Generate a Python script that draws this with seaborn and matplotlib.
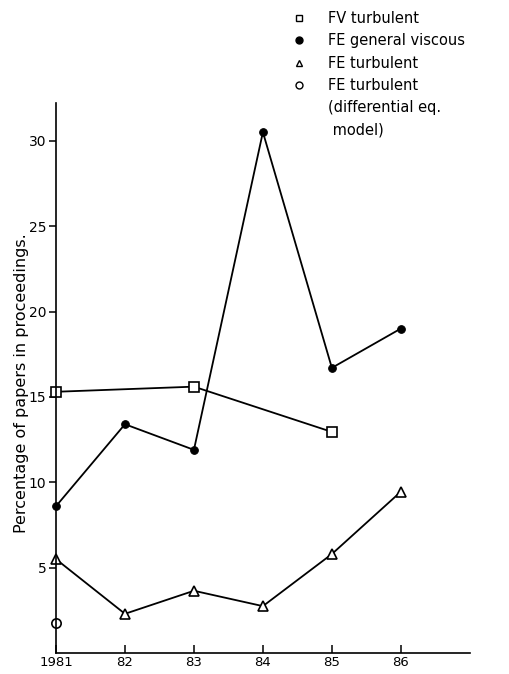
import numpy as np
import pandas as pd
import matplotlib
matplotlib.use("Agg")
import matplotlib.pyplot as plt
import seaborn as sns
from matplotlib.lines import Line2D

# values
fv_years = [1981, 1983, 1985]
fv_turb = [15.3, 15.6, 12.95]

fe_years = [1981, 1982, 1983, 1984, 1985, 1986]
fe_visc = [8.6, 13.4, 11.9, 30.5, 16.7, 19.0]
fe_turb = [5.5, 2.3, 3.65, 2.75, 5.8, 9.45]

de_years = [1981]
de_turb = [1.75]

xticks = [1981, 1982, 1983, 1984, 1985, 1986]
xticklabels = ["1981", "82", "83", "84", "85", "86"]
yticks = [5, 10, 15, 20, 25, 30]

sns.set_style("ticks")
plt.rcParams['font.family'] = ['DejaVu Sans']
plt.rcParams['text.color'] = 'k'
plt.rcParams['axes.labelcolor'] = 'k'
plt.rcParams['xtick.color'] = 'k'
plt.rcParams['ytick.color'] = 'k'
plt.rcParams['axes.edgecolor'] = 'k'

fig = plt.figure(figsize=(5.09, 6.74), dpi=100)
ax = fig.add_axes([0.110, 0.031, 0.813, 0.816])

lw = 1.3
sns.lineplot(x=fv_years, y=fv_turb, ax=ax, color='k', lw=lw, marker='s',
             markersize=7, markerfacecolor='white', markeredgecolor='k',
             markeredgewidth=1.2)
sns.lineplot(x=fe_years, y=fe_visc, ax=ax, color='k', lw=lw, marker='o',
             markersize=5.5, markerfacecolor='k', markeredgecolor='k')
sns.lineplot(x=fe_years, y=fe_turb, ax=ax, color='k', lw=lw, marker='^',
             markersize=7, markerfacecolor='white', markeredgecolor='k',
             markeredgewidth=1.2)
sns.scatterplot(x=de_years, y=de_turb, ax=ax, marker='o', s=45,
                facecolor='white', edgecolor='k', linewidth=1.2, clip_on=False)

ax.set_xlim(1981, 1987)
ax.set_ylim(0, 32.2)
ax.set_xticks(xticks)
ax.set_xticklabels(xticklabels, fontsize=9.5)
ax.set_yticks(yticks)
ax.set_yticklabels([str(v) for v in yticks], fontsize=10)
ax.tick_params(axis='x', direction='in', length=6, width=1.1, pad=2)
ax.tick_params(axis='y', direction='out', length=5, width=1.1, pad=2)
for s in ['top', 'right']:
    ax.spines[s].set_visible(False)
for s in ['left', 'bottom']:
    ax.spines[s].set_linewidth(1.2)
for line in ax.lines:
    line.set_clip_on(False)

ax.set_ylabel("Percentage of papers in proceedings.", fontsize=11.5)
ax.yaxis.set_label_coords(-0.065, 0.49)

handles = [
    Line2D([], [], ls='none', marker='s', mfc='white', mec='k', ms=5),
    Line2D([], [], ls='none', marker='o', mfc='k', mec='k', ms=5),
    Line2D([], [], ls='none', marker='^', mfc='white', mec='k', ms=5),
    Line2D([], [], ls='none', marker='o', mfc='white', mec='k', ms=5),
    Line2D([], [], ls='none'),
    Line2D([], [], ls='none'),
]
labels = ["FV turbulent", "FE general viscous", "FE turbulent",
          "FE turbulent", "(differential eq.", " model)"]
fig.legend(handles, labels, loc='upper left', bbox_to_anchor=(0.545, 1.003),
           frameon=False, fontsize=10.5, handlelength=1.2, handletextpad=1.4,
           labelspacing=0.5)

fig.savefig("out.png", dpi=100)
